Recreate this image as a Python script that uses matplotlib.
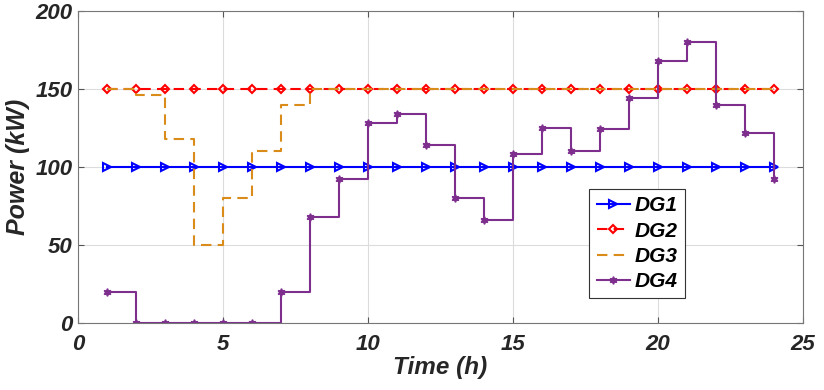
import matplotlib.pyplot as plt

hours = list(range(1, 25))
dg1 = [100] * 24
dg2 = [150] * 24
dg3 = [150, 146, 118, 50, 80, 110, 140, 150, 150, 150, 150, 150,
       150, 150, 150, 150, 150, 150, 150, 150, 150, 150, 150, 150]
dg4 = [20, 0, 0, 0, 0, 0, 20, 68, 92, 128, 134, 114,
       80, 66, 108, 125, 110, 124, 144, 168, 180, 140, 122, 92]

plt.rcParams['font.family'] = ['Liberation Sans', 'DejaVu Sans']

fig = plt.figure(figsize=(8.24, 3.9), dpi=100)
ax = fig.add_axes([0.0947, 0.172, 0.88, 0.800])

ax.step(hours, dg1, where='post', color='#0000ff', lw=1.5,
        marker='>', markersize=5.5, markerfacecolor='none', markeredgewidth=1.5,
        label='DG1')
ax.step(hours, dg2, where='post', color='#ff0000', lw=1.5, ls=(0, (5, 3)),
        marker='D', markersize=4.5, markerfacecolor='none', markeredgewidth=1.5,
        label='DG2')
ax.step(hours, dg3, where='post', color='#d98c1a', lw=1.5, ls=(0, (5, 3)),
        label='DG3')
ax.step(hours, dg4, where='post', color='#7e2f8e', lw=1.5,
        marker=(6, 1, 0), markersize=5.5, label='DG4')

ax.set_xlim(0, 25)
ax.set_ylim(0, 200)
ax.set_xticks(range(0, 26, 5))
ax.set_yticks(range(0, 201, 50))
ax.grid(True, color='#dcdcdc', lw=0.8)
ax.set_axisbelow(True)
ax.tick_params(direction='in', length=4, colors='#555555', labelcolor='#262626',
               labelsize=16, top=True, right=True)
ax.tick_params(axis='x', pad=8)
ax.tick_params(axis='y', pad=4)
for lab in ax.get_xticklabels() + ax.get_yticklabels():
    lab.set_fontweight('bold')
    lab.set_fontstyle('italic')
for s in ax.spines.values():
    s.set_color('#777777')

ax.set_xlabel('Time (h)', fontsize=17.5, fontweight='bold', style='italic',
              color='#262626', labelpad=1)
ax.set_ylabel('Power (kW)', fontsize=18, fontweight='bold', style='italic',
              color='#262626', labelpad=4)

leg = ax.legend(loc='upper left', bbox_to_anchor=(0.705, 0.429),
                prop={'weight': 'bold', 'style': 'italic', 'size': 15},
                fancybox=False, edgecolor='#333333', framealpha=1,
                handlelength=1.6, borderpad=0.35, labelspacing=0.3,
                handletextpad=0.25, borderaxespad=0)
leg.get_frame().set_linewidth(0.8)

fig.savefig('out.png', dpi=100)
